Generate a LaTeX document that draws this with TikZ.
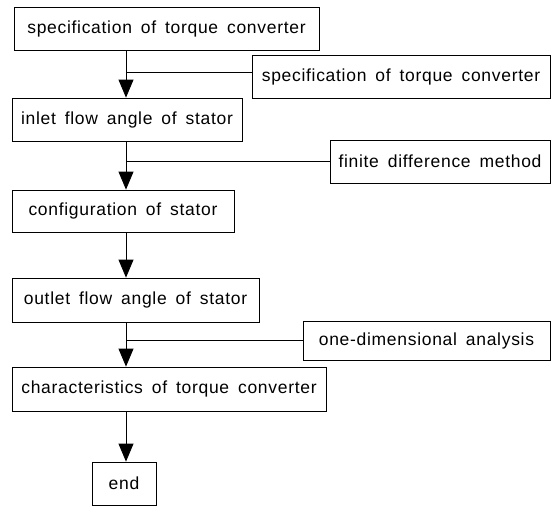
\documentclass[tikz,border=0pt]{standalone}
\usepackage{fontspec}
\setmainfont{Liberation Sans}[LetterSpace=4, WordSpace=1.6]
\usetikzlibrary{arrows.meta,calc}
\tikzset{
  box/.style={draw, line width=0.8pt, rectangle, inner sep=0pt, align=center,
    font=\fontsize{17.5}{20}\selectfont},
  link/.style={line width=0.8pt},
  arr/.style={line width=0.8pt, -{Triangle[width=15pt,length=18pt]}}
}
\begin{document}
\begin{tikzpicture}[x=1pt,y=-1pt]
\useasboundingbox (0,0) rectangle (557,507);
\coordinate (spine) at (126,0);
\node[box, minimum width=305pt, minimum height=43pt] (A) at (166.5,28.5) {specification of torque converter};
\node[box, minimum width=230pt, minimum height=43pt] (B) at (127,119.5) {inlet flow angle of stator};
\node[box, minimum width=222pt, minimum height=42pt] (C) at (123,211) {configuration of stator};
\node[box, minimum width=247pt, minimum height=44pt] (D) at (135.5,300) {outlet flow angle of stator};
\node[box, minimum width=314pt, minimum height=44pt] (E) at (169,389) {characteristics of torque converter};
\node[box, minimum width=64pt, minimum height=43pt] (F) at (124,483.5) {end};
\node[box, minimum width=298pt, minimum height=43pt] (S1) at (401,76.5) {specification of torque converter};
\node[box, minimum width=220pt, minimum height=43pt] (S2) at (440,161.5) {finite difference method};
\node[box, minimum width=247pt, minimum height=39pt] (S3) at (426.5,340.5) {one-dimensional analysis};
\draw[arr] (A.south -| spine) -- (B.north -| spine);
\draw[arr] (B.south -| spine) -- (C.north -| spine);
\draw[arr] (C.south -| spine) -- (D.north -| spine);
\draw[arr] (D.south -| spine) -- (E.north -| spine);
\draw[arr] (E.south -| spine) -- (F.north -| spine);
\draw[link] ([yshift=4pt]S1.west) -- ([yshift=4pt]S1.west -| spine);
\draw[link] (S2.west) -- (S2.west -| spine);
\draw[link] (S3.west) -- (S3.west -| spine);
\end{tikzpicture}
\end{document}
